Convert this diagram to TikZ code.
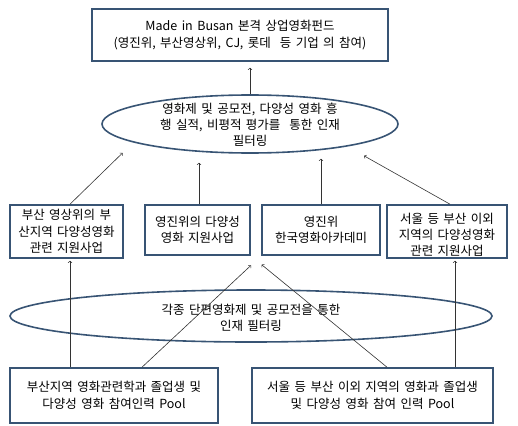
\documentclass[tikz,border=0pt]{standalone}
\usepackage{fontspec}
\setmainfont[WordSpace=1.6]{Noto Sans CJK KR}
\usepackage{tikz}
\usetikzlibrary{positioning,shapes.geometric}
\definecolor{boxblue}{RGB}{56,84,116}
\tikzset{sbox/.style={rectangle,draw=boxblue,line width=1.6pt,align=center,inner sep=0pt,font=\fontsize{12.5}{16.5}\selectfont},
	 oval/.style={ellipse,draw=boxblue,line width=1.6pt,align=center,inner sep=0pt,font=\fontsize{12.5}{16}\selectfont},
	 txt/.style={align=center,inner sep=0pt,font=\fontsize{12.5}{16}\selectfont},
	 arr/.style={->,line width=0.6pt,black!80}
	 }

\begin{document}
\begin{tikzpicture}[x=1pt,y=-1pt]
      \useasboundingbox (0,0) rectangle (518,425);
      \node[sbox,minimum width=296pt,minimum height=52pt] (fund) at (240,35) {Made in Busan 본격 상업영화펀드\\(영진위, 부산영상위, CJ, 롯데\ \ 등 기업 의 참여)};
      \node[oval,minimum width=296pt,minimum height=58pt] (filter1) at (250,124) {};
      \node[txt] at (250,125) {영화제 및 공모전, 다양성 영화 흥\\행 실적, 비평적 평가를\ \ 통한 인재\\필터링};
      \node[sbox,minimum width=113pt,minimum height=53pt] (busanfilm) at (66.5,231.5) {부산 영상위의 부\\산지역 다양성영화\\관련 지원사업};
      \node[sbox,minimum width=105pt,minimum height=50pt] (kofic) at (197.5,230) {영진위의 다양성\\영화 지원사업};
      \node[sbox,minimum width=118pt,minimum height=50pt] (kafa) at (321,230) {영진위\\한국영화아카데미};
      \node[sbox,minimum width=120pt,minimum height=53pt] (seoul) at (447,231.5) {};
      \node[txt] at (447,234.5) {서울 등 부산 이외\\지역의 다양성영화\\관련 지원사업};
      \node[oval,minimum width=482pt,minimum height=52pt] (filter2) at (251,316) {};
      \node[txt] at (251,317.5) {각종 단편영화제 및 공모전을 통한\\인재 필터링};
      \node[sbox,minimum width=208pt,minimum height=55pt] (busanpool) at (114,395.5) {부산지역 영화관련학과 졸업생 및\\다양성 영화 참여인력 Pool};
      \node[sbox,minimum width=241pt,minimum height=55pt] (otherpool) at (372.5,395.5) {서울 등 부산 이외 지역의 영화과 졸업생\\및 다양성 영화 참여 인력 Pool};
      % upper level
      \draw[arr,shorten >=6pt] (filter1.north) -- (filter1.north |- fund.south);
      \draw[arr,shorten >=15pt] ([xshift=3.5pt]busanfilm.north) -- (filter1.189);
      \draw[arr,shorten >=9pt] ([xshift=1.5pt]kofic.north) -- ([xshift=1.5pt]kofic.north |- filter1.south);
      \draw[arr,shorten >=5pt] (kafa.north) -- (kafa.north |- filter1.south);
      \draw[arr,shorten >=19pt] ([xshift=3pt]seoul.north) -- (filter1.347);
      % lower level
      \draw[arr,shorten >=2pt] ([xshift=3.5pt]busanpool.north -| busanfilm.south) -- ([xshift=3.5pt]busanfilm.south);
      \draw[arr,shorten >=2pt] ([xshift=8pt]otherpool.north -| seoul.south) -- ([xshift=8pt]seoul.south);
      \draw[arr,shorten >=14pt] ([xshift=28pt]busanpool.north) -- (kafa.south west);
      \draw[arr,shorten >=14pt] ([xshift=14.5pt]otherpool.north) -- (kofic.south east);
  \end{tikzpicture}
\end{document}
